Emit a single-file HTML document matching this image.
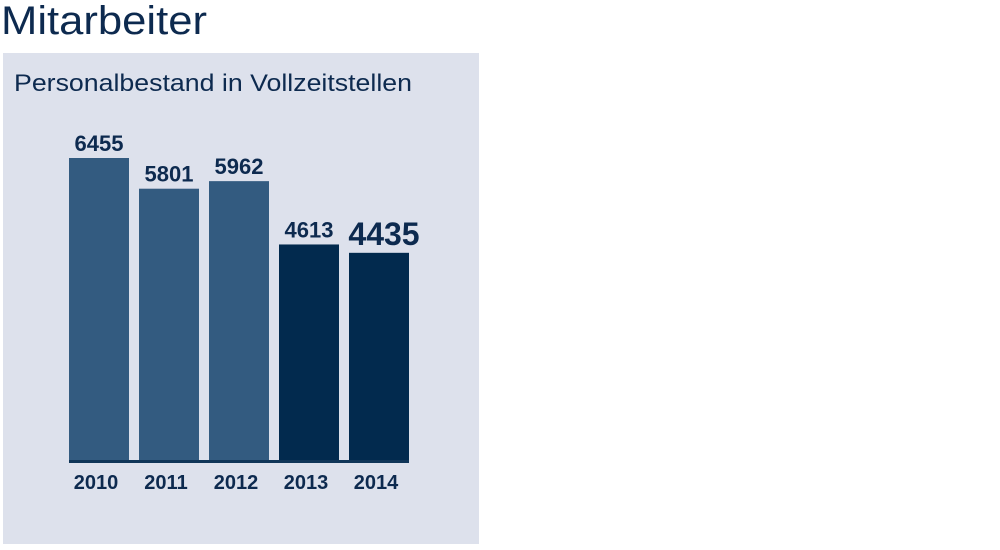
<!DOCTYPE html>
<html><head><meta charset="utf-8"><style>
body{margin:0;width:1000px;height:545px;background:#fff;overflow:hidden;font-family:"Liberation Sans",sans-serif}
</style></head><body>
<svg width="1000" height="545">
<text x="1" y="34" font-size="40" fill="#0d2a4f" textLength="206" lengthAdjust="spacingAndGlyphs">Mitarbeiter</text>
<rect x="3" y="53" width="476" height="491" fill="#dde1ec"/>
<text x="14" y="91" font-size="24" fill="#0d2a4f" textLength="398" lengthAdjust="spacingAndGlyphs">Personalbestand in Vollzeitstellen</text>
<g id="bars"></g>
<rect x="69" y="460" width="340" height="3" fill="#0f3558"/>
</svg>
<script>
const years=["2010","2011","2012","2013","2014"];
const values=[6455,5801,5962,4613,4435];
const highlight=[false,false,false,true,true];
const ns="http://www.w3.org/2000/svg";
const g=document.getElementById("bars");
const base=461, scale=303/6455;
function y(v){return base-v*scale;}
function x(i){return 69+i*70;}
years.forEach((yr,i)=>{
  const r=document.createElementNS(ns,"rect");
  
  
  r.setAttribute("x",x(i));r.setAttribute("y",y(values[i]));
  r.setAttribute("width",60);r.setAttribute("height",base-y(values[i]));
  r.setAttribute("fill",highlight[i]?"#022a4e":"#335b80");
  g.appendChild(r);
  const t=document.createElementNS(ns,"text");
  
  
  const big=i===values.length-1;
  t.setAttribute("x",x(i)+30+(big?5:0));t.setAttribute("y",y(values[i])-(big?8:7));
  t.setAttribute("text-anchor","middle");t.setAttribute("font-weight","bold");
  t.setAttribute("font-size",big?32:22);t.setAttribute("fill","#0d2a4f");
  t.textContent=values[i];g.appendChild(t);
  const l=document.createElementNS(ns,"text");
  
  
  l.setAttribute("x",x(i)+27);l.setAttribute("y",489);
  l.setAttribute("text-anchor","middle");l.setAttribute("font-weight","bold");
  l.setAttribute("font-size",20);l.setAttribute("fill","#0d2a4f");
  l.textContent=yr;g.appendChild(l);
});
</script>
</body></html>
